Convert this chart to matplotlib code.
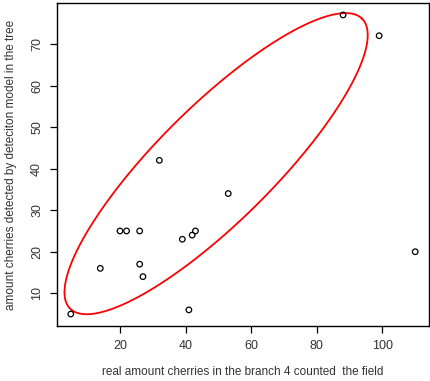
# Scatter of real vs detected cherries with a highlight ellipse
import numpy as np
import matplotlib.pyplot as plt

plt.rcParams['font.family'] = ['Liberation Sans', 'DejaVu Sans']

# Data
real_counts = [5, 14, 20, 22, 26, 26, 27, 39, 42, 43, 41, 32, 53, 88, 99, 110]
detected_counts = [5, 16, 25, 25, 25, 17, 14, 23, 24, 25, 6, 42, 34, 77, 72, 20]
x_ticks = [20, 40, 60, 80, 100]
y_ticks = [10, 20, 30, 40, 50, 60, 70]

# Ellipse drawn around the main group (centre and half-axis vectors, data units)
ell_center = (49.3, 41.2)
ell_major = (44.5, 34.9)
ell_minor = (-12.5, 9.8)

fig = plt.figure(figsize=(4.31, 3.81), dpi=100)
ax = fig.add_axes([57 / 431, 55 / 381, 372 / 431, 323 / 381])

ax.scatter(real_counts, detected_counts, s=16, facecolors='none',
           edgecolors='black', linewidths=0.9, zorder=3)

t = np.linspace(0, 2 * np.pi, 400)
ex = ell_center[0] + ell_major[0] * np.cos(t) + ell_minor[0] * np.sin(t)
ey = ell_center[1] + ell_major[1] * np.cos(t) + ell_minor[1] * np.sin(t)
ax.plot(ex, ey, color='red', lw=1.3)

# R-style 4% padding around the data range
xr = max(real_counts) - min(real_counts)
yr = max(detected_counts) - min(detected_counts)
ax.set_xlim(min(real_counts) - 0.04 * xr, max(real_counts) + 0.04 * xr)
ax.set_ylim(min(detected_counts) - 0.04 * yr, max(detected_counts) + 0.04 * yr)

ax.set_xticks(x_ticks)
ax.set_yticks(y_ticks)
ax.tick_params(direction='out', length=5, width=0.9, pad=5, labelsize=9,
               labelcolor='#333333')
for lab in ax.get_yticklabels():
    lab.set_rotation(90)
    lab.set_va('center')
for sp in ax.spines.values():
    sp.set_linewidth(1.0)

ax.set_xlabel('real amount cherries in the branch 4 counted  the field',
              fontsize=8.5, color='#333333', labelpad=10)
ax.set_ylabel('amount cherries detected by deteciton model in the tree',
              fontsize=8.5, color='#333333', labelpad=10)

fig.savefig('out.png', dpi=100)
